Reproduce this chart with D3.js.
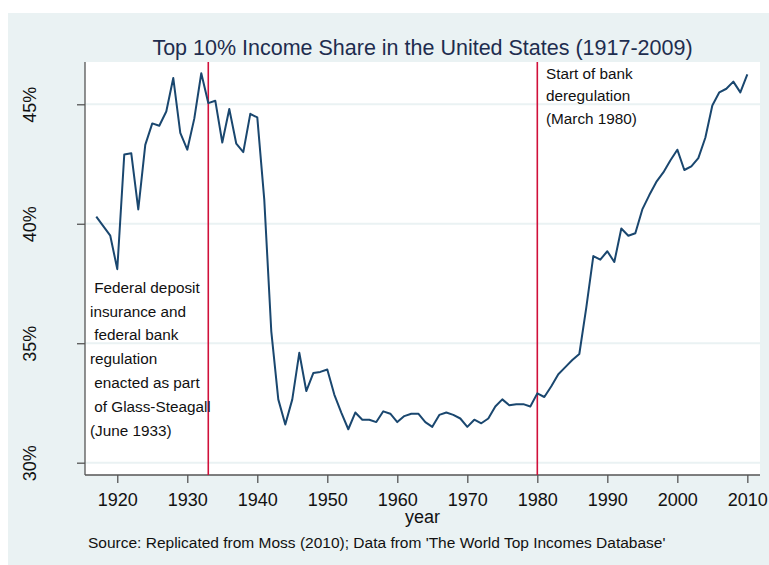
<!DOCTYPE html>
<html>
<head>
<meta charset="utf-8">
<script src="https://d3js.org/d3.v7.min.js"></script>
<style>
  body { margin: 0; background: #ffffff; }
  text { font-family: "Liberation Sans", Arial, sans-serif; }
</style>
</head>
<body>
<script>
// data: top 10% income share (%), one value per year
var years = d3.range(1917, 2011);
var share = [
  40.3, 39.9, 39.5, 38.1, 42.9, 42.95, 40.6, 43.3, 44.2, 44.1,      // 1917-1926
  44.7, 46.1, 43.8, 43.1, 44.4, 46.3, 45.05, 45.15, 43.4, 44.8,     // 1927-1936
  43.35, 43.0, 44.6, 44.45, 41.0, 35.5, 32.65, 31.6, 32.65, 34.6,   // 1937-1946
  33.0, 33.75, 33.8, 33.9, 32.85, 32.1, 31.4, 32.1, 31.8, 31.8,     // 1947-1956
  31.7, 32.15, 32.05, 31.7, 31.95, 32.05, 32.05, 31.7, 31.5, 32.0,  // 1957-1966
  32.1, 32.0, 31.85, 31.5, 31.8, 31.65, 31.85, 32.35, 32.65, 32.4,  // 1967-1976
  32.45, 32.45, 32.35, 32.9, 32.75, 33.2, 33.7, 34.0, 34.3, 34.55,  // 1977-1986
  36.5, 38.65, 38.5, 38.85, 38.4, 39.8, 39.5, 39.6, 40.6, 41.2,     // 1987-1996
  41.75, 42.15, 42.65, 43.1, 42.25, 42.4, 42.75, 43.6, 44.95, 45.5, // 1997-2006
  45.65, 45.95, 45.5, 46.25                                         // 2007-2010
];
var xTicks = [1920, 1930, 1940, 1950, 1960, 1970, 1980, 1990, 2000, 2010];
var yTicks = [30, 35, 40, 45];
var eventYears = [1933, 1980];
var noteLeft = [" Federal deposit", "insurance and", " federal bank", "regulation",
                " enacted as part", " of Glass-Steagall", "(June 1933)"];
var noteRight = ["Start of bank", "deregulation", "(March 1980)"];

var W = 769, H = 565;
var plot = {left: 85, right: 760, top: 62, bottom: 475};

var x = d3.scaleLinear().domain([1915.39, 2011.81]).range([plot.left, plot.right]);
var y = d3.scaleLinear().domain([29.485, 46.77]).range([plot.bottom, plot.top]);

var svg = d3.select("body")
            .append("svg")
            .attr("width", W)
            .attr("height", H);

// graph region
svg.append("rect").attr("x", 8).attr("y", 13).attr("width", W - 8).attr("height", H - 13)
   .attr("fill", "#eaf2f3");
// plot region
svg.append("rect").attr("x", plot.left).attr("y", plot.top)
   .attr("width", plot.right - plot.left).attr("height", plot.bottom - plot.top)
   .attr("fill", "#ffffff");

// grid
svg.append("g").selectAll("line")
   .data(yTicks)
   .enter().append("line")
   .attr("x1", plot.left).attr("x2", plot.right)
   .attr("y1", function(d) { return y(d); }).attr("y2", function(d) { return y(d); })
   .attr("stroke", "#eaf2f3").attr("stroke-width", 2);

// axes
var yAxis = d3.axisLeft(y).tickValues(yTicks).tickSize(8).tickFormat(function(d) { return d + "%"; });
var xAxis = d3.axisBottom(x).tickValues(xTicks).tickSize(8).tickFormat(d3.format("d"));

var gy = svg.append("g").attr("transform", "translate(" + plot.left + ",0)").call(yAxis);
var gx = svg.append("g").attr("transform", "translate(0," + plot.bottom + ")").call(xAxis);

[gx, gy].forEach(function(g) {
  g.select(".domain").attr("stroke", "#555").attr("stroke-width", 1.3);
  g.selectAll(".tick line").attr("stroke", "#555").attr("stroke-width", 1.3);
  g.selectAll(".tick text").attr("fill", "#111").style("font-size", "18px");
});
gy.select(".domain").attr("d", "M0," + plot.bottom + "V" + plot.top);
gx.select(".domain").attr("d", "M" + plot.left + ",0H" + plot.right);

gx.selectAll(".tick text").attr("y", 18).attr("dy", "0.71em");
gy.selectAll(".tick text")
  .attr("x", null).attr("dy", null).attr("text-anchor", "middle")
  .attr("transform", "translate(-49,0) rotate(-90)");

// event lines
svg.append("g").selectAll("line")
   .data(eventYears)
   .enter().append("line")
   .attr("x1", function(d) { return x(d); }).attr("x2", function(d) { return x(d); })
   .attr("y1", plot.top).attr("y2", plot.bottom)
   .attr("stroke", "#d0103a").attr("stroke-width", 1.6);

// series
var line = d3.line()
  .x(function(d, i) { return x(years[i]); })
  .y(function(d) { return y(d); });

svg.append("path")
   .datum(share)
   .attr("d", line)
   .attr("fill", "none")
   .attr("stroke", "#1a476f")
   .attr("stroke-width", 2)
   .attr("stroke-linejoin", "round");

// notes
svg.append("g").selectAll("text")
   .data(noteLeft)
   .enter().append("text")
   .attr("x", 90).attr("y", function(d, i) { return 292.7 + i * 23.8; })
   .style("white-space", "pre")
   .style("font-size", "15.3px")
   .attr("fill", "#111")
   .text(function(d) { return d; });

svg.append("g").selectAll("text")
   .data(noteRight)
   .enter().append("text")
   .attr("x", 546).attr("y", function(d, i) { return 78.7 + i * 22.5; })
   .style("font-size", "15.3px")
   .attr("fill", "#111")
   .text(function(d) { return d; });

// titles
svg.append("text").text("Top 10% Income Share in the United States (1917-2009)")
   .attr("x", (plot.left + plot.right) / 2).attr("y", 54.5)
   .attr("text-anchor", "middle").style("font-size", "21.5px").attr("fill", "#1e2d4f");

svg.append("text").text("year")
   .attr("x", (plot.left + plot.right) / 2).attr("y", 523)
   .attr("text-anchor", "middle").style("font-size", "18px").attr("fill", "#111");

svg.append("text").text("Source: Replicated from Moss (2010); Data from 'The World Top Incomes Database'")
   .attr("x", 88).attr("y", 548)
   .style("font-size", "15.5px").attr("fill", "#111");
</script>
</body>
</html>
